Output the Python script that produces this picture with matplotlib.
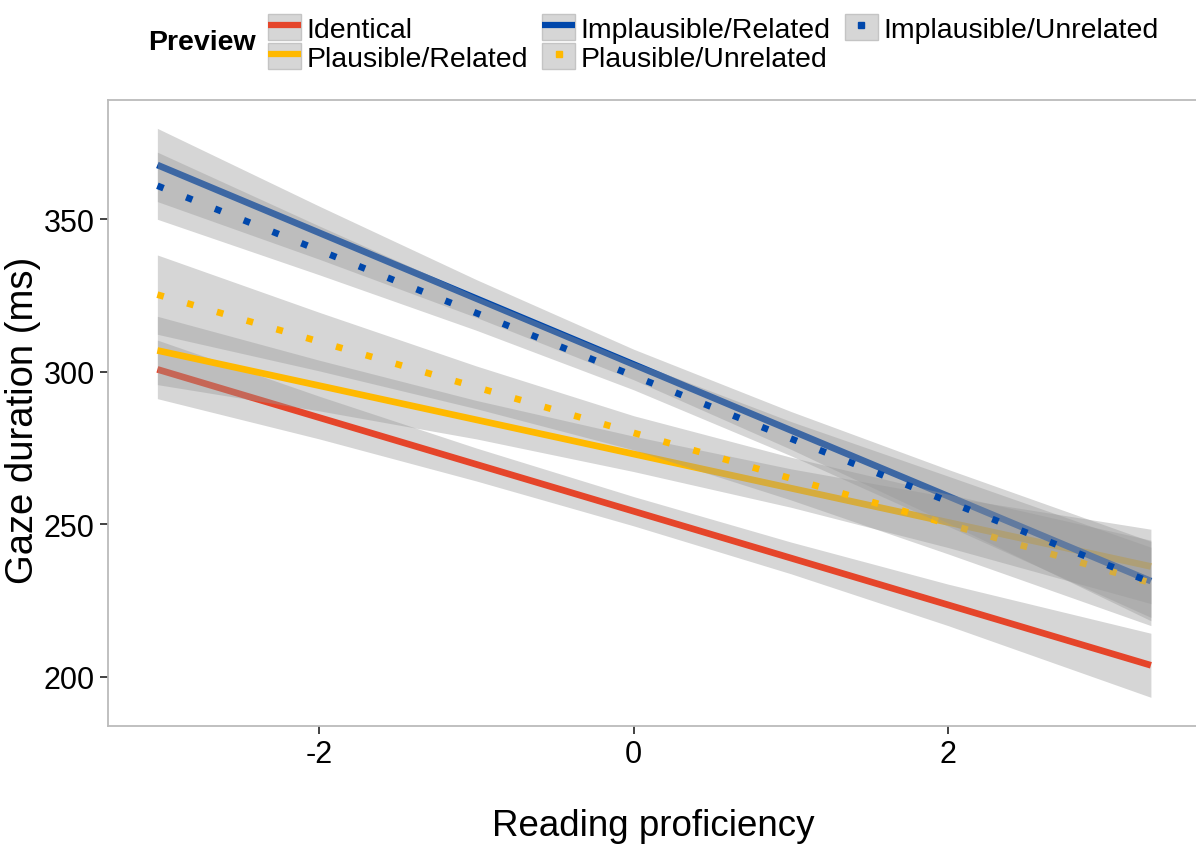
import numpy as np
import matplotlib
matplotlib.use("Agg")
import matplotlib.pyplot as plt
from matplotlib.lines import Line2D
from matplotlib.patches import Patch

plt.rcParams["font.family"] = ["Liberation Sans", "DejaVu Sans"]
plt.rcParams["axes.unicode_minus"] = False

# condition order = legend order = drawing order
conditions = ["Identical", "Plausible/Related", "Implausible/Related",
              "Plausible/Unrelated", "Implausible/Unrelated"]
colors = ["#E5452A", "#FFB900", "#0047AB", "#FFB900", "#0047AB"]
dotted = [False, False, False, True, True]

# fitted lines: value at left and right end of proficiency range
x_ends = [-3.03, 3.29]
fit_left = [300.8, 307.0, 367.8, 325.3, 361.0]
fit_right = [203.8, 236.2, 231.4, 230.8, 231.0]

# confidence bands read at a few proficiency values
band_x = [-3.03, -2.0, -1.0, 0.0, 1.0, 2.0, 3.29]
band_lower = [
    [291.2, 278.0, 264.2, 249.5, 233.8, 216.8, 193.3],
    [295.8, 287.2, 278.0, 267.3, 255.6, 242.4, 224.0],
    [355.8, 336.9, 317.8, 297.4, 274.6, 250.4, 218.4],
    [312.3, 300.3, 287.9, 274.4, 258.0, 240.3, 216.8],
    [350.0, 331.8, 313.6, 294.1, 272.5, 249.4, 219.5],
]
band_upper = [
    [310.4, 292.0, 275.0, 259.1, 244.2, 230.4, 214.3],
    [318.2, 303.8, 290.6, 278.9, 268.2, 259.0, 248.4],
    [379.8, 354.3, 330.2, 307.4, 287.0, 268.0, 244.4],
    [338.3, 319.5, 301.9, 285.6, 272.0, 259.9, 244.8],
    [372.0, 347.8, 324.8, 303.3, 283.7, 265.8, 242.5],
]

fig = plt.figure(figsize=(11.96, 8.45), dpi=100)
ax = fig.add_axes([108 / 1196, 1 - 727 / 845, 1.0 - 108 / 1196 + 0.002, (727 - 101) / 845])

# each group: ribbon then line, so later ribbons cover earlier lines
for i, name in enumerate(conditions):
    ax.fill_between(band_x, band_lower[i], band_upper[i], color="#999999",
                    alpha=0.4, linewidth=0, zorder=2 * i + 1)
    if dotted[i]:
        ax.plot(x_ends, [fit_left[i], fit_right[i]], color=colors[i], lw=4.8,
                dashes=(1, 3.65), dash_capstyle="butt", zorder=2 * i + 2)
    else:
        ax.plot(x_ends, [fit_left[i], fit_right[i]], color=colors[i], lw=4.8,
                solid_capstyle="butt", zorder=2 * i + 2)

ax.set_xlim(-3.344, 3.592)
ax.set_ylim(183.9, 389.1)
ax.set_xticks([-2, 0, 2])
ax.set_yticks([200, 250, 300, 350])
ax.tick_params(labelsize=22, length=6, width=1.3, color="#333333", pad=3.5)
for side in ["top", "left", "bottom"]:
    ax.spines[side].set_color("#BBBBBB")
    ax.spines[side].set_linewidth(1.3)
ax.spines["right"].set_visible(False)

ax.set_xlabel("Reading proficiency", fontsize=26.5, labelpad=28)
ax.set_ylabel("Gaze duration (ms)", fontsize=27.5)
ax.yaxis.set_label_coords(-0.061, 0.49)

handles = []
for i in range(len(conditions)):
    bg = Patch(facecolor="#D6D6D6", edgecolor="#C4C4C4", linewidth=1)
    if dotted[i]:
        ln = Line2D([], [], color=colors[i], marker="s", markersize=5, linestyle="none")
    else:
        ln = Line2D([], [], color=colors[i], lw=4.5, solid_capstyle="butt")
    handles.append((bg, ln))

fig.legend(handles, conditions, ncol=3, loc="upper left",
           bbox_to_anchor=(268 / 1196, 1 - 15 / 845), frameon=False,
           fontsize=20.5, borderpad=0, borderaxespad=0, labelspacing=0,
           handlelength=1.15, handleheight=1.05, handletextpad=0.2,
           columnspacing=0.5)
fig.text(148 / 1196, 1 - 43 / 845, "Preview", fontsize=20.5, fontweight="bold",
         va="center", ha="left")

fig.savefig("out.png", dpi=100)
